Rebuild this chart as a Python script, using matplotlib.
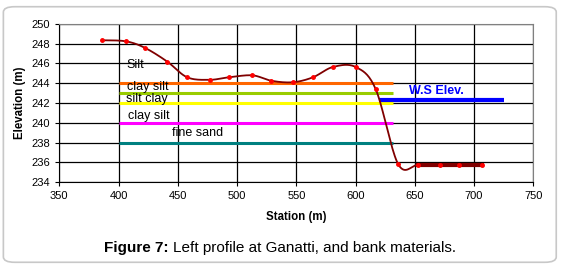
import numpy as np
import matplotlib.pyplot as plt
from matplotlib.patches import FancyBboxPatch

plt.rcParams['font.family'] = ['Liberation Sans', 'DejaVu Sans']

# surveyed bank profile
station = [386, 406, 422, 441, 458, 477, 493, 513, 529, 547, 564, 581, 600, 617, 636, 653, 671, 687, 707]
elev = [248.35, 248.25, 247.6, 246.2, 244.6, 244.35, 244.6, 244.8, 244.25, 244.1, 244.6, 245.65, 245.65,
        243.4, 235.8, 235.75, 235.75, 235.75, 235.75]

# bank material layers
layer_names = ['Silt', 'clay silt', 'silt clay', 'clay silt', 'fine sand']
layer_elev = [244, 243, 242, 240, 238]
layer_colors = ['#FF6600', '#99CC00', '#FFFF00', '#FF00FF', '#008080']
layer_start = 400
layer_end = 632
label_elev = [245.85, 243.6, 242.45, 240.7, 239.0]
label_x = [407, 407, 406, 408, 445]

# water surface
ws_x = [620, 725]
ws_elev = 242.3


def smooth(xs, ys, n=20):
    # excel style smoothed line (bezier through points)
    xs = np.asarray(xs, float)
    ys = np.asarray(ys, float)
    px = np.concatenate([[xs[0]], xs, [xs[-1]]])
    py = np.concatenate([[ys[0]], ys, [ys[-1]]])
    outx, outy = [], []
    t = np.linspace(0, 1, n)
    for i in range(1, len(px) - 2):
        p0 = np.array([px[i], py[i]])
        p3 = np.array([px[i + 1], py[i + 1]])
        c1 = p0 + (np.array([px[i + 1], py[i + 1]]) - np.array([px[i - 1], py[i - 1]])) / 6
        c2 = p3 - (np.array([px[i + 2], py[i + 2]]) - np.array([px[i], py[i]])) / 6
        b = ((1 - t) ** 3)[:, None] * p0 + (3 * (1 - t) ** 2 * t)[:, None] * c1 \
            + (3 * (1 - t) * t ** 2)[:, None] * c2 + (t ** 3)[:, None] * p3
        outx.extend(b[:, 0])
        outy.extend(b[:, 1])
    return outx, outy


fig = plt.figure(figsize=(5.63, 2.69), dpi=100)
frame = FancyBboxPatch((0.006, 0.025), 0.982, 0.95, boxstyle='round,pad=0,rounding_size=0.02',
                       transform=fig.transFigure, facecolor='white', edgecolor='#C8C8C8', lw=1.2, zorder=-5)
fig.patches.append(frame)
ax = fig.add_axes([0.1053, 0.3234, 0.842, 0.5874])

ax.set_xlim(350, 750)
ax.set_ylim(234, 250)
ax.set_xticks(range(350, 751, 50))
ax.set_yticks(range(234, 251, 2))
ax.grid(True, color='black', lw=0.9)
ax.set_axisbelow(True)

for name, y, c in zip(layer_names, layer_elev, layer_colors):
    ax.plot([layer_start, layer_end], [y, y], color=c, lw=2.2, solid_capstyle='butt', zorder=3)
for name, x, y in zip(layer_names, label_x, label_elev):
    ax.text(x, y, name, fontsize=9, va='center', ha='left', zorder=5)

ax.plot(ws_x, [ws_elev, ws_elev], color='#0000FF', lw=3, solid_capstyle='butt', zorder=3)
ax.text(668, 243.2, 'W.S Elev.', color='#0000FF', fontsize=9, fontweight='bold', ha='center', va='center')

sx, sy = smooth(station, elev)
ax.plot(sx, sy, color='#800000', lw=1.3, zorder=4)
ax.plot(station[15:], elev[15:], color='#800000', lw=3, zorder=4)
ax.plot(station, elev, 'o', color='#FF0000', ms=2.5, zorder=5)

for s in ['top', 'right']:
    ax.spines[s].set_color('#808080')
for s in ['left', 'bottom']:
    ax.spines[s].set_color('black')
ax.tick_params(labelsize=8, length=3, width=0.8)
ax.set_xlabel('Station (m)', fontsize=8.3, fontweight='bold', labelpad=7)
ax.set_ylabel('Elevation (m)', fontsize=8.3, fontweight='bold', labelpad=4)

fig.text(0.185, 0.063, 'Figure 7:', fontsize=11, fontweight='bold', va='baseline')
fig.text(0.307, 0.063, 'Left profile at Ganatti, and bank materials.', fontsize=11, va='baseline')

fig.savefig('out.png', dpi=100)
